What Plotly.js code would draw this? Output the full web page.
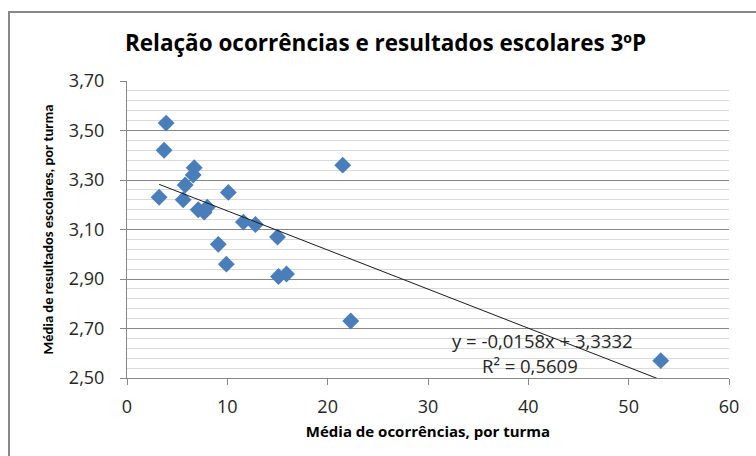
<!DOCTYPE html>
<html>
<head>
<meta charset="utf-8">
<script src="https://cdn.plot.ly/plotly-3.0.1.min.js"></script>
<style>
html,body{margin:0;padding:0;background:#fff;}
#chart{width:756px;height:456px;}
</style>
</head>
<body>
<div id="chart"></div>
<script>
// Média de ocorrências, por turma
const ocorrencias = [3.9, 3.7, 6.7, 6.6, 5.8, 3.2, 5.6, 10.1, 21.5, 7.1, 8.0, 7.7, 11.6, 12.8, 15.0, 9.1, 9.9, 15.1, 15.9, 22.3, 53.2];
// Média de resultados escolares, por turma
const resultados = [3.53, 3.42, 3.35, 3.32, 3.28, 3.23, 3.22, 3.25, 3.36, 3.18, 3.19, 3.17, 3.13, 3.12, 3.07, 3.04, 2.96, 2.91, 2.92, 2.73, 2.57];
// Linear trendline (Excel)
const slope = -0.0158;
const intercept = 3.3332;
const r2 = 0.5609;
const xTicks = [0, 10, 20, 30, 40, 50, 60];
const yTicks = [2.5, 2.7, 2.9, 3.1, 3.3, 3.5, 3.7];

const fmt = (v, d) => v.toFixed(d).replace('.', ',');
const xMin = Math.min(...ocorrencias), xMax = Math.max(...ocorrencias);
const trendX = [xMin, xMax];
const trendY = trendX.map(x => slope * x + intercept);

const wide = '"Open Sans", Lato, sans-serif';
const narrow = 'Carlito, Lato, "Open Sans", sans-serif';

const traces = [
  {
    x: ocorrencias, y: resultados, type: 'scatter', mode: 'markers',
    marker: {symbol: 'diamond', size: 13, color: '#4a7ebb', line: {width: 0}},
    hoverinfo: 'x+y', showlegend: false
  },
  {
    x: trendX, y: trendY, type: 'scatter', mode: 'lines',
    line: {color: '#1a1a1a', width: 1}, hoverinfo: 'skip', showlegend: false
  }
];

const layout = {
  width: 756, height: 456,
  margin: {l: 127, r: 27, t: 81, b: 78},
  paper_bgcolor: '#ffffff', plot_bgcolor: '#ffffff',
  separators: ', ',
  font: {family: wide, color: '#262626'},
  title: {
    text: 'Relação ocorrências e resultados escolares 3ºP',
    font: {family: wide, size: 22.5, color: '#000', weight: 'bold'},
    x: 0.51, xanchor: 'center', y: 0.905, yanchor: 'middle'
  },
  xaxis: {
    range: [0, 60], tickvals: xTicks, ticktext: xTicks.map(String),
    showgrid: false, zeroline: false,
    showline: true, linecolor: '#878787', linewidth: 1,
    ticks: 'outside', ticklen: 6, tickcolor: '#878787',
    ticklabelstandoff: 6,
    tickfont: {family: wide, size: 18, color: '#262626'},
    title: {text: 'Média de ocorrências, por turma', font: {family: wide, size: 15, color: '#000', weight: 'bold'}, standoff: 9}
  },
  yaxis: {
    range: [2.5, 3.7], tickvals: yTicks, ticktext: yTicks.map(v => fmt(v, 2)),
    showgrid: true, gridcolor: '#878787', gridwidth: 1,
    zeroline: false, showline: true, linecolor: '#878787', linewidth: 1,
    ticks: 'outside', ticklen: 6, tickcolor: '#878787',
    ticklabelstandoff: 12,
    minor: {dtick: 0.04, tick0: 2.5, showgrid: true, gridcolor: '#d9d9d9', gridwidth: 1, ticks: ''},
    tickfont: {family: wide, size: 18, color: '#262626'},
    title: {text: 'Média de resultados escolares, por turma', font: {family: narrow, size: 14.5, color: '#000', weight: 'bold'}, standoff: 11}
  },
  shapes: [
    {type: 'rect', xref: 'paper', yref: 'paper', x0: -0.196, x1: 1.2, y0: -0.5, y1: 1.232,
     line: {color: '#878787', width: 2}, fillcolor: 'rgba(0,0,0,0)', layer: 'below'}
  ],
  annotations: [
    {x: 41.4, y: 2.652, xref: 'x', yref: 'y', showarrow: false,
     text: 'y = ' + fmt(slope, 4) + 'x + ' + fmt(intercept, 4),
     font: {family: wide, size: 18.5, color: '#262626'}},
    {x: 40.2, y: 2.550, xref: 'x', yref: 'y', showarrow: false,
     text: 'R² = ' + fmt(r2, 4),
     font: {family: wide, size: 18.5, color: '#262626'}}
  ]
};

Plotly.newPlot('chart', traces, layout, {displayModeBar: false, staticPlot: true});
</script>
</body>
</html>
